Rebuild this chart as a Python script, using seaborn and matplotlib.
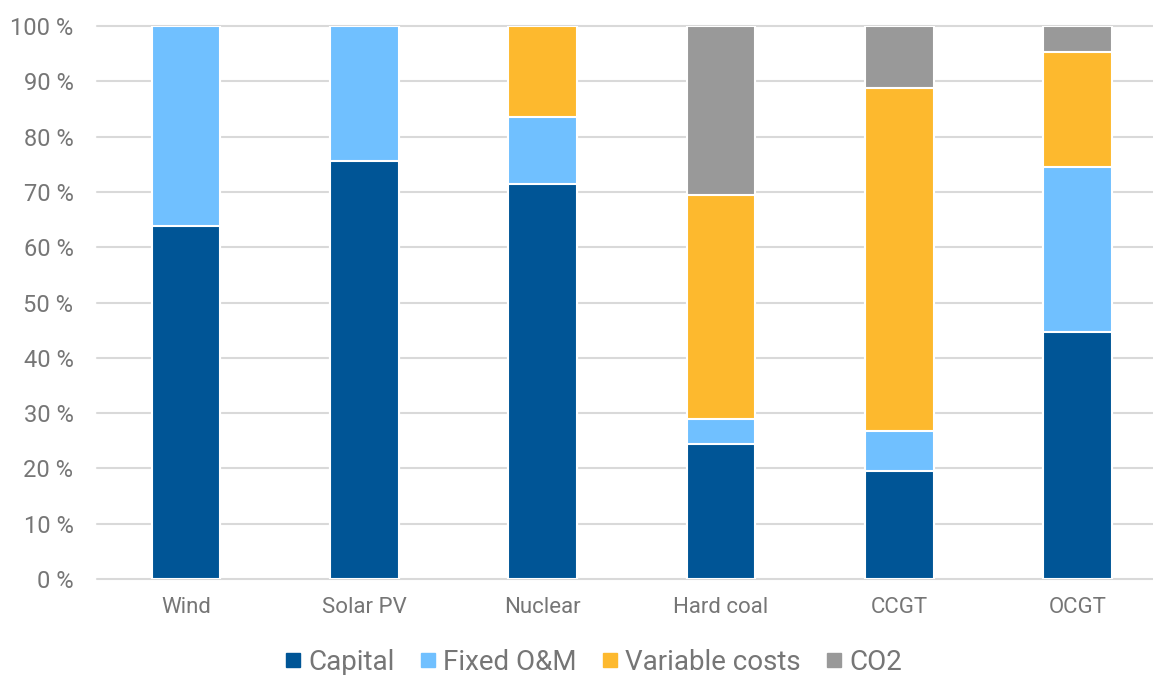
import numpy as np
import pandas as pd
import matplotlib
matplotlib.use("Agg")
import matplotlib.pyplot as plt
from matplotlib.lines import Line2D
import seaborn as sns

# Cost shares (%) per generation technology
technologies = ["Wind", "Solar PV", "Nuclear", "Hard coal", "CCGT", "OCGT"]
capital = [63.9, 75.6, 71.4, 24.4, 19.6, 44.7]
fixed_om = [36.1, 24.4, 12.1, 4.5, 7.2, 29.8]
variable_costs = [0.0, 0.0, 16.5, 40.5, 61.9, 20.8]
co2 = [0.0, 0.0, 0.0, 30.6, 11.3, 4.7]

components = ["Capital", "Fixed O&M", "Variable costs", "CO2"]
colors = ["#005596", "#70C0FF", "#FDB92E", "#999999"]
tick_labels = ["0 %", "10 %", "20 %", "30 %", "40 %", "50 %",
               "60 %", "70 %", "80 %", "90 %", "100 %"]

sns.set_theme(style="white")
plt.rcParams["font.family"] = ["Roboto", "DejaVu Sans"]

series = np.array([capital, fixed_om, variable_costs, co2])
cumulative = np.cumsum(series, axis=0)

fig = plt.figure(figsize=(11.53, 6.75), dpi=100)
ax = fig.add_axes([97 / 1153, 96 / 675, (1153 - 97) / 1153, (579 - 26) / 675])

# Stacked bars: draw cumulative totals from the top segment down
for i in range(len(components) - 1, -1, -1):
    df = pd.DataFrame({"tech": technologies, "value": cumulative[i]})
    sns.barplot(data=df, x="tech", y="value", color=colors[i], width=0.385,
                edgecolor="white", linewidth=1.5, saturation=1, ax=ax, zorder=3)

ax.set_xlim(-0.5, (1153 - 186) / 178.3)
ax.set_ylim(0, 100)
ax.set_yticks(np.arange(0, 101, 10))
ax.set_yticklabels(tick_labels)
ax.set_xlabel("")
ax.set_ylabel("")
for y in np.arange(0, 101, 10):
    ax.axhline(y, color="#D9D9D9", linewidth=1.5, zorder=1, clip_on=False)
for s in ax.spines.values():
    s.set_visible(False)
ax.tick_params(axis="y", length=0, pad=17, labelsize=17, labelcolor="#767676")
ax.tick_params(axis="x", length=0, pad=13, labelsize=16, labelcolor="#767676")

handles = [Line2D([0], [0], marker="s", linestyle="", markersize=10,
                  markerfacecolor=c, markeredgecolor=c) for c in colors]
fig.legend(handles, components, loc="center", bbox_to_anchor=(592 / 1153, 1 - 662 / 675),
           ncol=4, frameon=False, fontsize=20, labelcolor="#767676",
           handletextpad=0.15, columnspacing=0.8, handlelength=0.8)

fig.savefig("out.png", dpi=100)
